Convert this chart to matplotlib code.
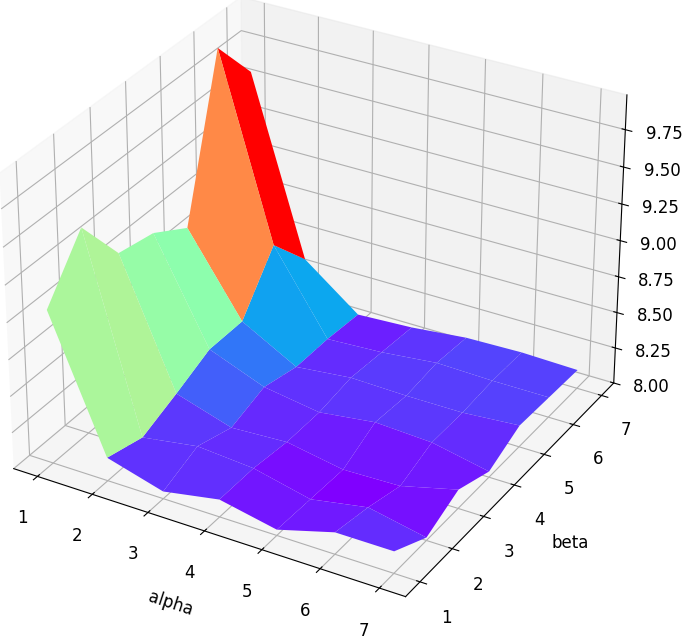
import numpy as np
import matplotlib
matplotlib.use('Agg')
import matplotlib.pyplot as plt

alpha = [1, 2, 3, 4, 5, 6, 7]
beta = [1, 2, 3, 4, 5, 6, 7]
z_ticks = [8.0, 8.25, 8.5, 8.75, 9.0, 9.25, 9.5, 9.75]
accuracy = [
    [9.05, 9.41, 9.05, 9.00, 8.85, 9.91, 9.58],
    [8.16, 8.09, 8.19, 8.30, 8.30, 8.65, 8.36],
    [8.05, 8.15, 8.07, 8.15, 8.09, 8.09, 8.07],
    [8.12, 8.12, 8.09, 8.09, 8.13, 8.11, 8.09],
    [8.04, 8.03, 8.02, 8.14, 8.12, 8.15, 8.13],
    [8.15, 8.10, 8.03, 8.12, 8.12, 8.14, 8.14],
    [8.15, 8.02, 8.13, 8.04, 8.15, 8.14, 8.13],
]

X, Y = np.meshgrid(alpha, beta, indexing='ij')
Z = np.array(accuracy)

fig = plt.figure(figsize=(6.85, 6.4), dpi=100)
ax = fig.add_axes([-0.0927, -0.001, 1.09, 1.09], projection='3d')
ax.plot_surface(X, Y, Z, cmap='rainbow', rstride=1, cstride=1)
ax.set_zlim(8, 9.98, view_margin=0)
ax.set_xticks(alpha)
ax.set_yticks(beta)
ax.set_zticks(z_ticks)
ax.tick_params(labelsize=12, pad=9)
ax.set_xlabel('alpha', fontsize=12, labelpad=16)
ax.set_ylabel('beta', fontsize=12, labelpad=16)
fig.savefig('out.png', dpi=100)
